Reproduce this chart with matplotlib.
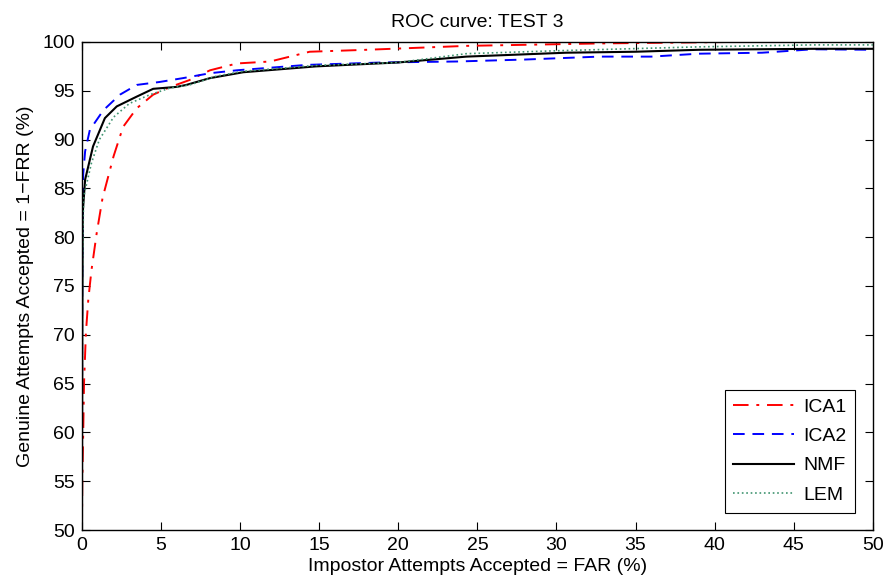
import matplotlib
matplotlib.use('Agg')
from matplotlib import pyplot as plt

plt.rcParams['font.family'] = ['Liberation Sans', 'DejaVu Sans']

# ROC curves, FAR (%) vs 1-FRR (%)
ica1_far = [0, 0.02, 0.08, 0.13, 0.25, 0.4, 0.6, 0.93, 1.3, 2.0, 2.6, 3.46, 4.5, 5.6, 6.8, 8.1, 9.8, 11.9, 14.4, 18, 24.3, 32.7, 41, 50]
ica1_gar = [50, 54.8, 60, 65, 70.2, 73.6, 76.6, 80.4, 84.0, 88.3, 91.3, 93.2, 94.6, 95.4, 96.1, 97.1, 97.8, 98.0, 99.0, 99.2, 99.6, 99.85, 100, 100]

ica2_far = [0, 0.01, 0.03, 0.08, 0.2, 0.5, 1.35, 2.4, 3.46, 4.9, 6.4, 8.1, 9.8, 14.2, 19, 23.7, 28, 32.7, 36, 39, 43, 46.2, 50]
ica2_gar = [50, 70, 80, 86.5, 88.8, 91, 93, 94.6, 95.6, 95.9, 96.3, 96.8, 97.1, 97.65, 97.9, 98.0, 98.2, 98.5, 98.5, 98.8, 98.9, 99.25, 99.2]

nmf_far = [0, 0.02, 0.05, 0.2, 0.7, 1.45, 2.2, 3.46, 4.5, 6.0, 6.6, 8.1, 10.2, 14.8, 20, 24.3, 30.6, 35, 39, 46.2, 50]
nmf_gar = [50, 70, 82.5, 85.9, 89.3, 92.2, 93.4, 94.4, 95.2, 95.4, 95.6, 96.3, 96.9, 97.5, 97.9, 98.5, 98.9, 99.0, 99.2, 99.3, 99.3]

lem_far = [0, 0.03, 0.1, 0.6, 1.1, 2.0, 3.0, 4.3, 5.6, 6.8, 8.5, 10.2, 14.8, 20, 24.3, 30, 39, 46.2, 50]
lem_gar = [50, 75, 84.1, 87.6, 90, 92.3, 93.7, 94.6, 95.3, 95.6, 96.5, 97.0, 97.6, 97.9, 98.8, 99.1, 99.5, 99.7, 99.7]

xticks = list(range(0, 51, 5))
yticks = list(range(50, 101, 5))

fs = 14

fig = plt.figure(figsize=(8.87, 5.83), dpi=100)
ax = fig.add_axes([0.0924, 0.0909, 0.8916, 0.8371])

ax.plot(ica1_far, ica1_gar, color='red', linestyle='-.', lw=1.4, dashes=(8, 4, 1.5, 4), label='ICA1')
ax.plot(ica2_far, ica2_gar, color='blue', linestyle='--', lw=1.4, dashes=(6, 4), label='ICA2')
ax.plot(nmf_far, nmf_gar, color='black', linestyle='-', lw=1.5, label='NMF')
ax.plot(lem_far, lem_gar, color='#3f9470', linestyle=':', lw=1.2, label='LEM')

ax.set_xlim(0, 50)
ax.set_ylim(50, 100)
ax.set_xticks(xticks)
ax.set_yticks(yticks)
ax.tick_params(direction='in', top=True, right=True, labelsize=fs, length=5.5, width=0.8, pad=5)
for s in ax.spines.values():
    s.set_linewidth(1.0)

ax.set_xlabel('Impostor Attempts Accepted = FAR (%)', fontsize=fs, labelpad=3)
ax.set_ylabel('Genuine Attempts Accepted = 1\u2212FRR (%)', fontsize=fs, labelpad=6)
ax.set_title('ROC curve: TEST 3', fontsize=fs, pad=11)

leg = ax.legend(loc='lower right', fontsize=fs, handlelength=3.1, handletextpad=0.5, fancybox=False,
                edgecolor='black', framealpha=1, borderaxespad=0.9, labelspacing=0.6,
                borderpad=0.45)
leg.get_frame().set_linewidth(0.8)

fig.savefig('out.png', dpi=100)
